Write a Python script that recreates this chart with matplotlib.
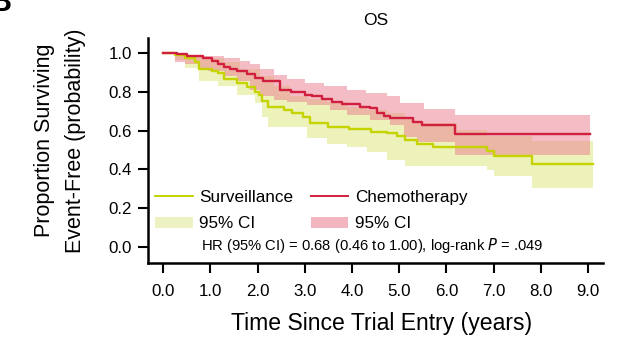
import numpy as np
import matplotlib.pyplot as plt
from matplotlib.patches import Patch
from matplotlib.lines import Line2D

plt.rcParams['font.family'] = ['Liberation Sans', 'DejaVu Sans']

# Kaplan-Meier overall survival, read as step functions (time in years)
surv_t = [0.0, 0.25, 0.47, 0.68, 0.75, 1.03, 1.17, 1.28, 1.56, 1.77, 1.95, 2.02, 2.09,
          2.23, 2.55, 2.73, 2.97, 3.10, 3.50, 3.93, 4.40, 4.74, 4.95, 5.12, 5.37,
          5.72, 6.86, 7.00, 7.81, 9.10]
surv_s = [1.0, 0.99, 0.975, 0.95, 0.917, 0.905, 0.893, 0.866, 0.845, 0.825, 0.80, 0.78,
          0.75, 0.723, 0.706, 0.689, 0.668, 0.637, 0.62, 0.606, 0.594, 0.585, 0.57,
          0.55, 0.533, 0.513, 0.496, 0.47, 0.43, 0.43]

chemo_t = [0.0, 0.29, 0.50, 0.85, 1.03, 1.17, 1.28, 1.42, 1.56, 1.77, 1.95, 2.12, 2.48,
           2.70, 3.00, 3.15, 3.37, 3.58, 3.79, 4.17, 4.38, 4.53, 4.67, 4.81, 5.29,
           5.48, 6.18, 9.04]
chemo_s = [1.0, 0.993, 0.983, 0.97, 0.955, 0.944, 0.928, 0.914, 0.905, 0.892, 0.871,
           0.854, 0.81, 0.80, 0.784, 0.775, 0.761, 0.749, 0.737, 0.723, 0.715, 0.692,
           0.675, 0.663, 0.645, 0.627, 0.581, 0.581]

# 95% confidence bands
surv_lo_t = [0.25, 0.47, 0.75, 1.17, 1.56, 1.95, 2.09, 2.23, 3.04, 3.47, 3.89, 4.31,
             4.74, 5.13, 6.86, 7.00, 7.81, 9.10]
surv_lo = [0.96, 0.92, 0.854, 0.83, 0.785, 0.741, 0.672, 0.62, 0.56, 0.533, 0.516,
           0.49, 0.447, 0.42, 0.396, 0.364, 0.307, 0.307]
surv_hi_t = [0.25, 0.50, 0.85, 1.28, 1.63, 2.05, 2.34, 2.69, 3.04, 3.47, 3.89, 4.31,
             4.74, 5.13, 5.30, 6.22, 6.86, 7.81, 9.10]
surv_hi = [1.0, 0.99, 0.975, 0.95, 0.914, 0.879, 0.828, 0.775, 0.761, 0.749, 0.723,
           0.706, 0.689, 0.663, 0.637, 0.602, 0.57, 0.545, 0.545]

chemo_lo_t = [0.25, 0.47, 0.78, 0.95, 1.28, 1.56, 1.84, 2.05, 2.34, 2.62, 3.04, 3.54,
              3.89, 4.38, 4.81, 5.10, 5.37, 6.18, 9.04]
chemo_lo = [0.95, 0.94, 0.92, 0.905, 0.879, 0.854, 0.81, 0.775, 0.758, 0.749, 0.732,
            0.706, 0.68, 0.654, 0.627, 0.567, 0.541, 0.472, 0.472]
chemo_hi_t = [0.25, 0.50, 0.85, 1.28, 1.63, 1.84, 2.05, 2.34, 2.62, 3.00, 3.40, 3.90,
              4.30, 4.74, 5.02, 5.52, 6.18, 9.04]
chemo_hi = [1.0, 0.99, 0.983, 0.97, 0.957, 0.94, 0.914, 0.883, 0.866, 0.845, 0.828,
            0.81, 0.793, 0.775, 0.741, 0.708, 0.679, 0.679]

ticks_x = np.arange(0, 10, 1.0)
ticks_y = np.arange(0, 1.01, 0.2)

yellow = '#c5d300'
yellow_ci = '#e4eb96'
red = '#d11f3f'
red_ci = '#ea7b8d'


def band(lo_t, lo, hi_t, hi):
    # put both step edges on one time grid so fill_between can use them
    grid = np.union1d(lo_t, hi_t)
    lo_v = np.asarray(lo)[np.searchsorted(lo_t, grid, side='right') - 1]
    hi_v = np.asarray(hi)[np.searchsorted(hi_t, grid, side='right') - 1]
    return grid, lo_v, hi_v


fig = plt.figure(figsize=(6.41, 3.41), dpi=100)
ax = fig.add_axes([0.231, 0.229, 0.710, 0.660])

g, lo, hi = band(surv_lo_t, surv_lo, surv_hi_t, surv_hi)
ax.fill_between(g, lo, hi, step='post', color=yellow_ci, alpha=0.65, lw=0)
g, lo, hi = band(chemo_lo_t, chemo_lo, chemo_hi_t, chemo_hi)
ax.fill_between(g, lo, hi, step='post', color=red_ci, alpha=0.5, lw=0)

ax.step(surv_t, surv_s, where='post', color=yellow, lw=1.7)
ax.step(chemo_t, chemo_s, where='post', color=red, lw=1.7)

ax.set_xlim(-0.32, 9.32)
ax.set_ylim(-0.08, 1.076)
ax.set_xticks(ticks_x)
ax.set_xticklabels(['%.1f' % v for v in ticks_x])
ax.set_yticks(ticks_y)
ax.set_yticklabels(['%.1f' % v for v in ticks_y])
for s in ['top', 'right']:
    ax.spines[s].set_visible(False)
for s in ['left', 'bottom']:
    ax.spines[s].set_linewidth(1.8)
ax.tick_params(length=7, width=1.5, labelsize=12.2)
ax.tick_params(axis='x', pad=8)
ax.tick_params(axis='y', pad=4.5)

ax.set_title('OS', fontsize=12.5, pad=9)
ax.set_xlabel('Time Since Trial Entry (years)', fontsize=16.6, va='center')
ax.xaxis.set_label_coords(0.513, -0.267)
ax.set_ylabel('Proportion Surviving\nEvent-Free (probability)', fontsize=15.5,
              linespacing=1.65, va='center')
ax.yaxis.set_label_coords(-0.193, 0.544)

handles = [Line2D([], [], color=yellow, lw=1.4),
           Patch(facecolor='#eef2c2', edgecolor='none'),
           Line2D([], [], color=red, lw=1.4),
           Patch(facecolor='#f3b6c0', edgecolor='none')]
labels = ['Surveillance', '95% CI', 'Chemotherapy', '95% CI']
ax.legend(handles, labels, ncol=2, loc='upper left', bbox_to_anchor=(0.0154, 0.325),
          frameon=False, fontsize=12.3, handlelength=2.2, handleheight=0.6,
          columnspacing=1.0, labelspacing=0.68, handletextpad=0.4,
          borderpad=0, borderaxespad=0)

ax.text(0.1165, 0.0756, 'HR (95% CI) = 0.68 (0.46 to 1.00), log-rank $\\it{P}$ = .049',
        transform=ax.transAxes, fontsize=10.6, va='center')

fig.text(0.0187, 0.968, 'B', fontsize=22, fontweight='bold', ha='right', va='baseline')

fig.savefig('out.png', dpi=100)
